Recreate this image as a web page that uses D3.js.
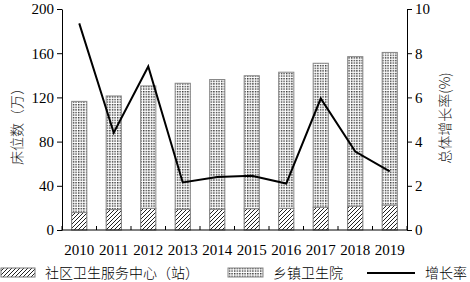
<!DOCTYPE html>
<html>
<head>
<meta charset="utf-8">
<script src="https://cdn.jsdelivr.net/npm/d3@7"></script>
<style>
  body { margin: 0; background: #fff; }
  svg { display: block; }
</style>
</head>
<body>
<div id="chart"></div>
<script>
const years = ["2010", "2011", "2012", "2013", "2014", "2015", "2016", "2017", "2018", "2019"];
const communityBeds = [15.8, 18.5, 19.6, 18.8, 18.9, 19.3, 19.6, 20.6, 21.6, 22.6];
const townshipBeds = [100.6, 102.8, 110.8, 114.0, 117.3, 120.3, 123.2, 130.3, 135.3, 138.1];
const growthRate = [9.35, 4.4, 7.4, 2.15, 2.4, 2.45, 2.1, 5.95, 3.55, 2.65];
const leftTicks = [0, 40, 80, 120, 160, 200];
const rightTicks = [0, 2, 4, 6, 8, 10];
const legendLabels = ["社区卫生服务中心（站）", "乡镇卫生院", "增长率"];

const width = 470, height = 282;
const margin = { left: 62, right: 63, top: 9, bottom: 52 };
const numFont = "'Liberation Serif', 'Times New Roman', serif";
const cjkFont = "'Noto Sans CJK SC', sans-serif";

const svg = d3.select("#chart").append("svg")
  .attr("width", width)
  .attr("height", height);

const defs = svg.append("defs");
const hatch = defs.append("pattern")
  .attr("id", "hatch")
  .attr("patternUnits", "userSpaceOnUse")
  .attr("width", 4).attr("height", 4);
hatch.append("rect").attr("width", 4).attr("height", 4).attr("fill", "#fff");
hatch.append("path")
  .attr("d", "M-1,1 l2,-2 M0,4 l4,-4 M3,5 l2,-2")
  .attr("stroke", "#222").attr("stroke-width", 1);

const dots = defs.append("pattern")
  .attr("id", "dots")
  .attr("patternUnits", "userSpaceOnUse")
  .attr("width", 2.6).attr("height", 2.6);
dots.append("rect").attr("width", 2.6).attr("height", 2.6).attr("fill", "#fff");
dots.append("rect").attr("width", 1.4).attr("height", 1.4).attr("fill", "#333");

const x = d3.scaleBand()
  .domain(years)
  .range([margin.left, width - margin.right])
  .paddingInner(0.56)
  .paddingOuter(0.28);

const yLeft = d3.scaleLinear().domain([0, 200]).range([height - margin.bottom, margin.top]);
const yRight = d3.scaleLinear().domain([0, 10]).range([height - margin.bottom, margin.top]);

const stacked = years.map((yr, i) => ({
  year: yr,
  community: communityBeds[i],
  township: townshipBeds[i]
}));

// community (bottom)
svg.append("g").selectAll("rect")
  .data(stacked)
  .join("rect")
  .attr("x", d => x(d.year))
  .attr("width", x.bandwidth())
  .attr("y", d => yLeft(d.community))
  .attr("height", d => yLeft(0) - yLeft(d.community))
  .attr("fill", "url(#hatch)")
  .attr("stroke", "#777")
  .attr("stroke-width", 1);

// township (stacked on top)
svg.append("g").selectAll("rect")
  .data(stacked)
  .join("rect")
  .attr("x", d => x(d.year))
  .attr("width", x.bandwidth())
  .attr("y", d => yLeft(d.community + d.township))
  .attr("height", d => yLeft(d.community) - yLeft(d.community + d.township))
  .attr("fill", "url(#dots)")
  .attr("stroke", "#888")
  .attr("stroke-width", 1);

// growth line
const line = d3.line()
  .x((d, i) => x(years[i]) + x.bandwidth() / 2)
  .y(d => yRight(d));
svg.append("path")
  .datum(growthRate)
  .attr("d", line)
  .attr("fill", "none")
  .attr("stroke", "#000")
  .attr("stroke-width", 2);

// axes
const leftAxis = svg.append("g")
  .attr("transform", `translate(${margin.left},0)`)
  .call(d3.axisLeft(yLeft).tickValues(leftTicks).tickSize(5).tickSizeOuter(0).tickPadding(3));
const rightAxis = svg.append("g")
  .attr("transform", `translate(${width - margin.right},0)`)
  .call(d3.axisRight(yRight).tickValues(rightTicks).tickSize(5).tickSizeOuter(0).tickPadding(3));

[leftAxis, rightAxis].forEach(ax => {
  ax.select(".domain").attr("stroke", "#000").attr("stroke-width", 1);
  ax.selectAll(".tick line").attr("stroke", "#000");
  ax.selectAll(".tick text")
    .attr("font-family", numFont)
    .attr("font-size", 15)
    .attr("fill", "#000");
});

// bottom axis: ticks on band boundaries pointing up, labels centered
const bottom = svg.append("g")
  .attr("transform", `translate(0,${yLeft(0)})`);
bottom.append("line")
  .attr("x1", margin.left).attr("x2", width - margin.right)
  .attr("stroke", "#000").attr("stroke-width", 1);
const step = x.step();
const boundaries = years.map(yr => x(yr) - x.paddingInner() * step / 2).concat([width - margin.right]);
bottom.selectAll("line.tk")
  .data(boundaries)
  .join("line")
  .attr("class", "tk")
  .attr("x1", d => d).attr("x2", d => d)
  .attr("y1", 0).attr("y2", -4)
  .attr("stroke", "#000");
bottom.selectAll("text")
  .data(years)
  .join("text")
  .attr("x", d => x(d) + x.bandwidth() / 2)
  .attr("y", 25)
  .attr("text-anchor", "middle")
  .attr("font-family", numFont)
  .attr("font-size", 15)
  .text(d => d);

// axis titles
svg.append("text")
  .attr("transform", "translate(22,123) rotate(-90)")
  .attr("text-anchor", "middle")
  .attr("font-family", cjkFont)
  .attr("font-weight", 300)
  .attr("font-size", 14)
  .attr("fill", "#222")
  .text("床位数（万）");
svg.append("text")
  .attr("transform", "translate(450,118) rotate(-90)")
  .attr("text-anchor", "middle")
  .attr("font-family", cjkFont)
  .attr("font-weight", 300)
  .attr("font-size", 14)
  .attr("fill", "#222")
  .text("总体增长率(%)");

// legend
const ly = 273;
const legend = svg.append("g");
legend.append("rect")
  .attr("x", 1).attr("y", ly - 5).attr("width", 34).attr("height", 9)
  .attr("fill", "url(#hatch)").attr("stroke", "#777");
legend.append("text")
  .attr("x", 45).attr("y", ly).attr("dy", "0.35em")
  .attr("font-family", cjkFont).attr("font-weight", 300).attr("font-size", 14)
  .text(legendLabels[0]);
legend.append("rect")
  .attr("x", 228).attr("y", ly - 5).attr("width", 35).attr("height", 9)
  .attr("fill", "url(#dots)").attr("stroke", "#888");
legend.append("text")
  .attr("x", 273).attr("y", ly).attr("dy", "0.35em")
  .attr("font-family", cjkFont).attr("font-weight", 300).attr("font-size", 14)
  .text(legendLabels[1]);
legend.append("line")
  .attr("x1", 367).attr("x2", 415).attr("y1", ly).attr("y2", ly)
  .attr("stroke", "#000").attr("stroke-width", 2);
legend.append("text")
  .attr("x", 425).attr("y", ly).attr("dy", "0.35em")
  .attr("font-family", cjkFont).attr("font-weight", 300).attr("font-size", 14)
  .text(legendLabels[2]);
</script>
</body>
</html>
